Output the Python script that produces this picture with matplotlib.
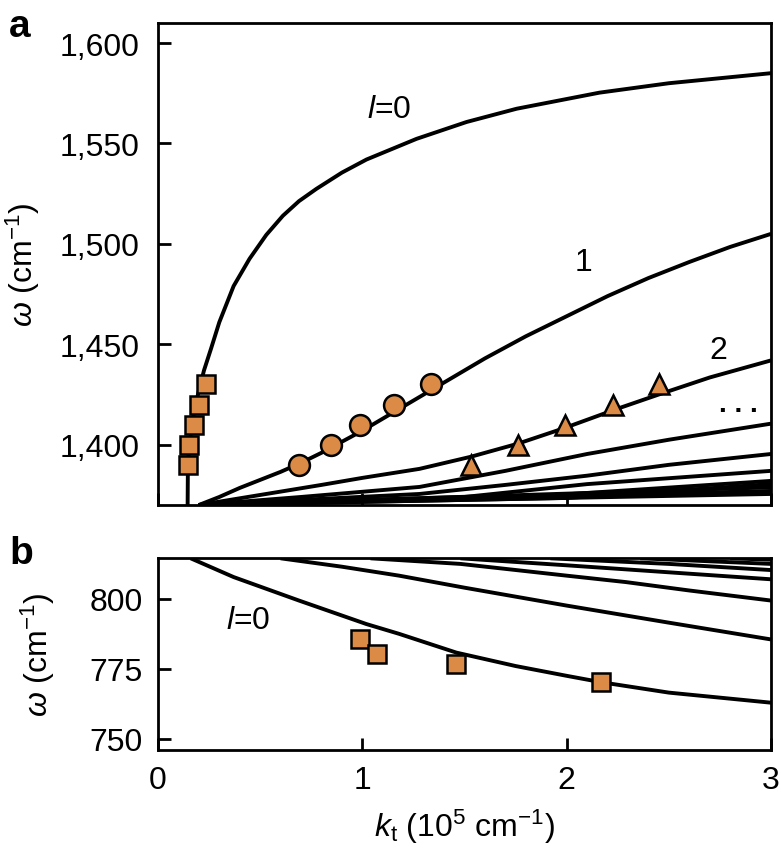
########################
## Phonon polariton dispersion plot
########################

import matplotlib
matplotlib.use("Agg")
import matplotlib.pyplot as plt
from matplotlib.ticker import FuncFormatter

# ---- Panel a: upper band, curves for l = 0, 1, 2, ...
a_l0_x = [0.145, 0.146, 0.15, 0.163, 0.18, 0.2, 0.225, 0.26, 0.3, 0.37, 0.448, 0.53,
          0.611, 0.69, 0.775, 0.9, 1.02, 1.265, 1.51, 1.755, 2.16, 2.5, 3.0]
a_l0_y = [1370, 1385, 1395, 1408, 1418, 1427, 1437, 1448, 1461, 1479, 1492.6, 1504.5,
          1514, 1521.3, 1527.4, 1535.5, 1542, 1552.3, 1560.7, 1567.3, 1575.3, 1580, 1585]
a_l1_x = [0.2, 0.3, 0.4, 0.5, 0.6, 0.7, 0.8, 0.9, 1.0, 1.1, 1.2, 1.3, 1.4,
          1.6, 1.8, 2.0, 2.2, 2.4, 2.6, 2.8, 3.0]
a_l1_y = [1370, 1374, 1378.5, 1382.5, 1386.5, 1391, 1396, 1401.5, 1407, 1413, 1419, 1425, 1431,
          1443, 1454, 1464, 1474, 1483, 1491, 1498.5, 1505]
a_l2_x = [0.2, 0.5, 0.8, 1.0, 1.28, 1.53, 1.76, 1.98, 2.25, 2.45, 2.7, 3.0]
a_l2_y = [1370, 1375, 1380, 1383.5, 1388, 1394, 1400.5, 1408, 1418, 1425, 1433.5, 1442]
a_l3_x = [0.2, 0.7, 1.28, 1.7, 2.1, 2.5, 3.0]
a_l3_y = [1370, 1374, 1379, 1387, 1395.4, 1402.5, 1410.5]
a_l4_x = [0.2, 1.28, 1.7, 2.1, 2.5, 3.0]
a_l4_y = [1370, 1375.5, 1380, 1384.6, 1390, 1395.4]
a_l5_x = [0.2, 1.5, 2.1, 3.0]
a_l5_y = [1370, 1374, 1380.4, 1387]
a_l6_x = [0.2, 1.8, 3.0]
a_l6_y = [1370, 1374, 1382]
a_l7_x = [0.2, 2.0, 3.0]
a_l7_y = [1370, 1373.5, 1380.4]
a_l8_x = [0.2, 3.0]
a_l8_y = [1370, 1378.8]
a_l9_x = [0.2, 3.0]
a_l9_y = [1370, 1377]
a_l10_x = [0.2, 3.0]
a_l10_y = [1370, 1375.5]

# Measured points, panel a
a_sq_x = [0.145, 0.153, 0.178, 0.203, 0.235]
a_sq_y = [1390, 1400, 1410, 1420, 1430]
a_ci_x = [0.689, 0.848, 0.987, 1.153, 1.335]
a_ci_y = [1390, 1400, 1410, 1420, 1430]
a_tr_x = [1.534, 1.76, 1.99, 2.228, 2.454]
a_tr_y = [1390, 1400, 1410, 1420, 1430]

# ---- Panel b: lower band
b_l0_x = [0.16, 0.37, 0.69, 1.02, 1.18, 1.46, 1.75, 2.0, 2.17, 2.5, 3.0]
b_l0_y = [814.5, 807.8, 799.4, 791, 787.5, 780.8, 776, 772.5, 770.2, 766.5, 762.9]
b_l1_x = [0.6, 0.9, 1.18, 1.5, 2.0, 2.5, 3.0]
b_l1_y = [814.5, 811.5, 808.3, 804, 797.6, 791.5, 785.5]
b_l2_x = [1.04, 1.48, 2.0, 2.29, 2.6, 3.0]
b_l2_y = [814.5, 812.5, 808.3, 806, 803, 799.4]
b_l3_x = [1.48, 2.0, 2.5, 3.0]
b_l3_y = [814.5, 812, 809.5, 807]
b_l4_x = [1.92, 2.5, 3.0]
b_l4_y = [814.5, 812.5, 810.3]
b_l5_x = [2.36, 3.0]
b_l5_y = [814.5, 812.5]
b_l6_x = [2.8, 3.0]
b_l6_y = [814.5, 814]

b_sq_x = [0.987, 1.073, 1.46, 2.17]
b_sq_y = [785.7, 780.4, 776.8, 770.2]

# Ticks
x_ticks = [0, 1, 2, 3]
a_y_ticks = [1400, 1450, 1500, 1550, 1600]
b_y_ticks = [750, 775, 800]

a_curves = [(a_l0_x, a_l0_y), (a_l1_x, a_l1_y), (a_l2_x, a_l2_y), (a_l3_x, a_l3_y),
            (a_l4_x, a_l4_y), (a_l5_x, a_l5_y), (a_l6_x, a_l6_y), (a_l7_x, a_l7_y),
            (a_l8_x, a_l8_y), (a_l9_x, a_l9_y), (a_l10_x, a_l10_y)]
b_curves = [(b_l0_x, b_l0_y), (b_l1_x, b_l1_y), (b_l2_x, b_l2_y), (b_l3_x, b_l3_y),
            (b_l4_x, b_l4_y), (b_l5_x, b_l5_y), (b_l6_x, b_l6_y)]

ORANGE = '#DB8B45'

# Fonts
plt.rcParams['font.family'] = ['Liberation Sans', 'DejaVu Sans']
plt.rcParams['mathtext.fontset'] = 'custom'
plt.rcParams['mathtext.rm'] = 'Liberation Sans'
plt.rcParams['mathtext.it'] = 'Liberation Sans:italic'
plt.rcParams['font.size'] = 23

fig = plt.figure(figsize=(7.81, 8.53), dpi=100)
ax_a = fig.add_axes([0.2023, 0.4068, 0.785, 0.5651])
ax_b = fig.add_axes([0.2023, 0.1196, 0.785, 0.2247])

def style_axis(ax):
    for spine in ax.spines.values():
        spine.set_linewidth(2)
    ax.tick_params(direction='in', length=9, width=2, top=False, right=False)
    ax.set_xlim(0, 3)
    ax.set_xticks(x_ticks)

# Panel a
for cx, cy in a_curves:
    ax_a.plot(cx, cy, color='black', lw=2.8, solid_capstyle='butt', zorder=2)
ax_a.plot(a_sq_x, a_sq_y, 's', ms=13, mfc=ORANGE, mec='black', mew=1.8, zorder=3)
ax_a.plot(a_ci_x, a_ci_y, 'o', ms=15, mfc=ORANGE, mec='black', mew=1.8, zorder=3)
ax_a.plot(a_tr_x, a_tr_y, '^', ms=15, mfc=ORANGE, mec='black', mew=1.8, zorder=3)
style_axis(ax_a)
ax_a.set_ylim(1370, 1610)
ax_a.set_yticks(a_y_ticks)
ax_a.yaxis.set_major_formatter(FuncFormatter(lambda v, p: "{:,}".format(int(v))))
ax_a.tick_params(axis='y', pad=13)
ax_a.tick_params(axis='x', labelbottom=False)
ax_a.set_ylabel(r"$\omega$ (cm$^{-1}$)")
ax_a.yaxis.set_label_coords(-0.189, 0.5)
# Curve labels
ax_a.text(1.13, 1567, r"$l$=0", ha='center', va='center')
ax_a.text(2.08, 1491, "1", ha='center', va='center')
ax_a.text(2.74, 1447, "2", ha='center', va='center')
ax_a.text(2.84, 1417, ". . .", ha='center', va='baseline', fontsize=20, fontweight='bold')

# Panel b
for cx, cy in b_curves:
    ax_b.plot(cx, cy, color='black', lw=2.8, solid_capstyle='butt', zorder=2)
ax_b.plot(b_sq_x, b_sq_y, 's', ms=13, mfc=ORANGE, mec='black', mew=1.8, zorder=3)
style_axis(ax_b)
ax_b.set_ylim(746, 814.5)
ax_b.set_yticks(b_y_ticks)
ax_b.tick_params(axis='y', pad=11)
ax_b.tick_params(axis='x', pad=11)
ax_b.set_ylabel(r"$\omega$ (cm$^{-1}$)")
ax_b.yaxis.set_label_coords(-0.165, 0.5)
ax_b.set_xlabel(r"$k_\mathrm{t}$ (10$^5$ cm$^{-1}$)", labelpad=8)
ax_b.text(0.443, 792.6, r"$l$=0", ha='center', va='center')

# Panel letters
fig.text(0.012, 0.968, "a", fontsize=28, fontweight='bold', va='center')
fig.text(0.012, 0.35, "b", fontsize=28, fontweight='bold', va='center')

fig.savefig("out.png", dpi=100)
